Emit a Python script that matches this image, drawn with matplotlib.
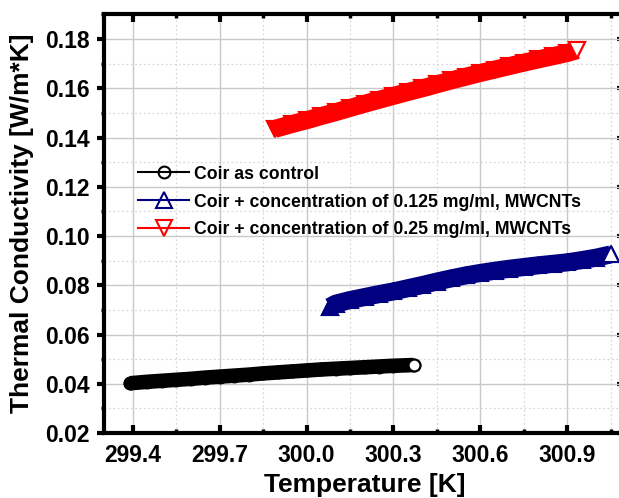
import matplotlib
matplotlib.use('Agg')
import matplotlib.pyplot as plt
from matplotlib.ticker import MultipleLocator

plt.rcParams['font.family'] = ['Liberation Sans', 'DejaVu Sans']
plt.rcParams['font.weight'] = 'bold'

# Thermal conductivity vs temperature for the three coir samples
temp_control = [299.39, 299.45, 299.50, 299.55, 299.60, 299.65, 299.70, 299.75, 299.80, 299.85,
                299.90, 299.95, 300.00, 300.05, 300.10, 300.15, 300.20, 300.25, 300.30, 300.37]
k_control = [0.0402, 0.0408, 0.0412, 0.0416, 0.0420, 0.0425, 0.0429, 0.0433, 0.0437, 0.0442,
             0.0446, 0.0450, 0.0454, 0.0458, 0.0461, 0.0464, 0.0467, 0.0470, 0.0473, 0.0476]

temp_0125 = [300.08, 300.10, 300.15, 300.20, 300.25, 300.30, 300.35, 300.40, 300.45, 300.50, 300.55,
             300.60, 300.65, 300.70, 300.75, 300.80, 300.85, 300.90, 300.95, 301.00, 301.05]
k_0125 = [0.0712, 0.0725, 0.0740, 0.0752, 0.0764, 0.0775, 0.0788, 0.0801, 0.0815, 0.0828, 0.0840,
          0.0850, 0.0859, 0.0867, 0.0874, 0.0881, 0.0887, 0.0893, 0.0902, 0.0912, 0.0925]

temp_025 = [299.89, 299.95, 300.00, 300.05, 300.10, 300.15, 300.20, 300.25, 300.30, 300.35, 300.40,
            300.45, 300.50, 300.55, 300.60, 300.65, 300.70, 300.75, 300.80, 300.85, 300.90, 300.935]
k_025 = [0.1435, 0.1455, 0.1470, 0.1487, 0.1503, 0.1520, 0.1537, 0.1553, 0.1569, 0.1585, 0.1600,
         0.1616, 0.1632, 0.1647, 0.1662, 0.1676, 0.1690, 0.1704, 0.1717, 0.1730, 0.1743, 0.1755]

labels = ['Coir as control',
          'Coir + concentration of 0.125 mg/ml, MWCNTs',
          'Coir + concentration of 0.25 mg/ml, MWCNTs']

W, H = 619, 498
fig = plt.figure(figsize=(W / 100, H / 100), dpi=100)
# axes run a little past the right edge of the figure
ax = fig.add_axes([104 / W, 65 / H, (625 - 104) / W, (483.6 - 65) / H])

series = [
    (temp_control, k_control, 'black', 'o', 8.5, 10.5),
    (temp_0125, k_0125, '#000080', '^', 12, 13),
    (temp_025, k_025, '#ff0000', 'v', 12, 13),
]

handles = []
for (t, k, c, m, ms, band), lab in zip(series, labels):
    # dense marker band
    ax.plot(t, k, color=c, lw=band, solid_capstyle='butt', zorder=3)
    h, = ax.plot(t, k, color=c, lw=1.5, marker=m, ms=ms, mfc='none', mec=c, mew=1.5,
                 label=lab, zorder=4)
    # start of the band is solid, last point is drawn open on top
    ax.plot(t[:1], k[:1], ls='none', marker=m, ms=ms, mfc=c, mec=c, mew=1.5, zorder=4)
    ax.plot(t[-1:], k[-1:], ls='none', marker=m, ms=ms, mfc='white', mec=c, mew=1.5, zorder=5)
    handles.append(h)

ax.set_xlim(299.3, 301.1)
ax.set_ylim(0.02, 0.19)
ax.xaxis.set_major_locator(MultipleLocator(0.3))
ax.xaxis.set_minor_locator(MultipleLocator(0.15))
ax.yaxis.set_major_locator(MultipleLocator(0.02))
ax.yaxis.set_minor_locator(MultipleLocator(0.01))
ax.xaxis.set_major_formatter(plt.FormatStrFormatter('%.1f'))
ax.yaxis.set_major_formatter(plt.FormatStrFormatter('%.2f'))

ax.set_axisbelow(True)
ax.grid(True, which='major', color='#c8c8c8', lw=1.0, ls='-')
ax.grid(True, which='minor', color='#d8d8d8', lw=0.9, ls=(0, (1.5, 2)))

for sp in ax.spines.values():
    sp.set_linewidth(3)

ax.tick_params(axis='x', which='major', direction='in', top=True, bottom=True,
               length=6, width=3, labelsize=16.5, pad=8)
ax.tick_params(axis='x', which='minor', direction='in', top=True, bottom=True,
               length=3, width=2.5)
ax.tick_params(axis='y', which='major', direction='out', left=True, right=False,
               length=5, width=3, labelsize=16.5, pad=5)
ax.tick_params(axis='y', which='minor', direction='out', left=True, right=False,
               length=2, width=2.5)

# right side ticks point inward
sec = ax.secondary_yaxis('right')
sec.yaxis.set_major_locator(MultipleLocator(0.02))
sec.tick_params(direction='in', length=6, width=3, labelright=False)
sec.spines['right'].set_linewidth(3)

ax.set_xlabel('Temperature [K]', fontsize=19, fontweight='bold', labelpad=4)
ax.set_ylabel('Thermal Conductivity [W/m*K]', fontsize=19, fontweight='bold', labelpad=8)

ax.legend(handles=handles, loc='center left', bbox_to_anchor=(138 / W, (H - 202) / H),
          bbox_transform=fig.transFigure, frameon=False,
          handlelength=2.9, handletextpad=0.3, labelspacing=0.62, borderpad=0,
          borderaxespad=0, prop={'weight': 'bold', 'size': 12.7})

fig.savefig('out.png', dpi=100)
